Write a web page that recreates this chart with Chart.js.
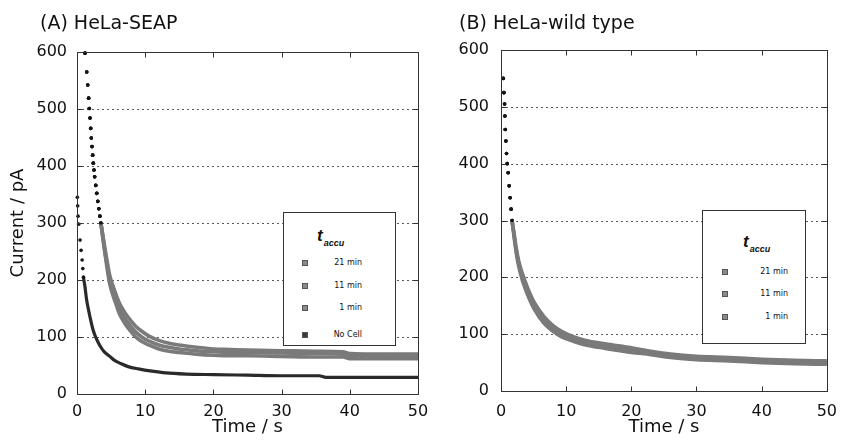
<!DOCTYPE html>
<html><head><meta charset="utf-8">
<script src="https://cdn.jsdelivr.net/npm/chart.js@4.4.1/dist/chart.umd.min.js"></script>
<style>
html,body{margin:0;padding:0;background:#fff;}
#root{position:relative;width:848px;height:443px;overflow:hidden;font-family:'DejaVu Sans',sans-serif;color:#111;}
canvas{position:absolute;top:0;}
.ttl{position:absolute;font-size:19px;line-height:19px;white-space:nowrap;color:#111;}
.lg{position:absolute;border:1px solid #333;background:#fff;box-sizing:border-box;}
.lgt{position:absolute;font-family:'Liberation Sans',sans-serif;font-weight:bold;font-style:italic;font-size:17px;line-height:17px;white-space:nowrap;color:#111;}
.lgt sub{font-size:9px;vertical-align:baseline;position:relative;top:5px;margin-left:1px;}
.mk{position:absolute;width:6px;height:6px;box-sizing:border-box;}
.lbl{position:absolute;font-size:8px;line-height:10px;height:10px;text-align:right;white-space:nowrap;color:#111;}
</style></head>
<body><div id="root">
<canvas id="cB" width="424" height="443" style="left:424px"></canvas>
<canvas id="cA" width="440" height="443" style="left:0"></canvas>
<div class="ttl" style="left:40px;top:13px">(A) HeLa-SEAP</div>
<div class="ttl" style="left:459px;top:13px">(B) HeLa-wild type</div>
</div>
<script>
// ---------- data ----------
const seriesNamesA = ['21 min', '11 min', '1 min', 'No Cell'];
const seriesNamesB = ['21 min', '11 min', '1 min'];
const xTickValues = [0, 10, 20, 30, 40, 50];
const yTickValues = [0, 100, 200, 300, 400, 500, 600];

// Panel A, cell-covered electrodes (time in s, current in pA)
const timeA = [1.17,1.42,1.57,1.71,1.8,1.91,2.01,2.1,2.2,2.3,2.39,2.49,2.59,2.75,2.9,3.05,3.2,3.35,3.5,3.8,4.1,4.4,4.8,5.3,5.8,6.2,7,7.8,8.6,9.5,10.5,12,13.5,15,17.5,20,22.5,25,30,35,39,40,45,50];
const a21min = [598,565,542,519,501,484,466,449,434,419,405,393,381,366,352,338,325,312,300,278,255,234,208,189,172,160,143,130,119,110,102,94,89,86,82,79,78,77,76,75,74,71,70,70];
const a11min = [598,565,542,519,501,484,466,449,434,419,405,393,381,366,352,338,325,312,300,275,250,228,200,180,163,150,133,120,109,100,93,86,82,79,76,74,73,73,72,71,70,67,67,66];
const a1min  = [598,565,542,519,501,484,466,449,434,419,405,393,381,366,352,338,325,312,300,272,246,222,193,172,155,141,124,111,100,92,86,79,75,73,70,68,67,67,66,65,65,62,62,62];

// Panel A, no cell
const timeNoCell = [0.05,0.1,0.15,0.25,0.45,0.6,0.75,0.85,0.95,1.15,1.4,1.7,2.0,2.3,2.6,3.0,3.5,4.0,4.8,5.5,6.5,7.5,9,11,13,16,20,25,30,35.5,36.5,40,45,50];
const aNoCell = [345,330,312,298,270,252,235,220,205,190,166,147,130,115,104,93,82,74,66,59,53,48,44,40,37,35,34,33,32,32,29,29,29,29];

// Panel B
const timeB = [0.35,0.45,0.55,0.6,0.65,0.75,0.85,0.95,1.1,1.25,1.4,1.55,1.7,2.0,2.3,2.7,3.3,4.1,5.1,6.6,8,9.3,11,13,16,20,23,26,30,35,40,45,50];
const b21min = [550,525,505,484,460,440,418,400,384,361,340,320,300,278,254,230,206,181,156,131,115,105,96,89,83,76,70,65,61,59,56,54,53];
const b11min = [550,525,505,484,460,440,418,400,384,361,340,320,300,275,250,225,200,175,150,125,110,100,92,85,79,72,67,62,58,56,53,51,50];
const b1min  = [550,525,505,484,460,440,418,400,384,361,340,320,300,272,246,220,194,169,144,119,105,95,88,81,75,68,64,59,55,53,50,48,47];

// ---------- helpers ----------
const GRAY = '#7a7a7a';
const DARK = '#2a2a2a';

function makeDataset(label, xs, ys, color, width, dotAbove) {
  return {
    label,
    data: xs.map((x, i) => ({x, y: ys[i]})),
    borderColor: color,
    borderWidth: width,
    cubicInterpolationMode: 'monotone',
    pointStyle: 'circle',
    pointRadius: c => (c.raw && c.raw.y >= dotAbove) ? 1.8 : 0,
    pointBackgroundColor: '#151515',
    pointBorderWidth: 0,
    fill: false,
    clip: 2,
    segment: {
      borderColor: c => (c.p0.parsed.y > dotAbove ? 'rgba(0,0,0,0)' : undefined)
    }
  };
}

const framePlugin = {
  id: 'frame',
  beforeDatasetsDraw(chart) {
    const {ctx, chartArea: a, scales: {y}} = chart;
    ctx.save();
    ctx.strokeStyle = '#5a5a5a';
    ctx.lineWidth = 1;
    ctx.setLineDash([2, 3]);
    y.ticks.forEach(t => {
      if (t.value <= y.min || t.value >= y.max) return;
      const py = Math.round(y.getPixelForValue(t.value)) + 0.5;
      ctx.beginPath(); ctx.moveTo(a.left, py); ctx.lineTo(a.right, py); ctx.stroke();
    });
    ctx.restore();
  },
  afterDraw(chart) {
    const {ctx, chartArea: a, scales: {x, y}} = chart;
    ctx.save();
    ctx.strokeStyle = '#333';
    ctx.lineWidth = 1;
    const L = Math.round(a.left) + 0.5, R = Math.round(a.right) + 0.5;
    const T = Math.round(a.top) + 0.5, B = Math.round(a.bottom) + 0.5;
    ctx.strokeRect(L, T, R - L, B - T);
    ctx.beginPath();
    x.ticks.forEach(t => {
      if (t.value <= x.min || t.value >= x.max) return;
      const px = Math.round(x.getPixelForValue(t.value)) + 0.5;
      ctx.moveTo(px, B); ctx.lineTo(px, B - 5);
      ctx.moveTo(px, T); ctx.lineTo(px, T + 5);
    });
    y.ticks.forEach(t => {
      if (t.value <= y.min || t.value >= y.max) return;
      const py = Math.round(y.getPixelForValue(t.value)) + 0.5;
      ctx.moveTo(L, py); ctx.lineTo(L + 5, py);
      ctx.moveTo(R, py); ctx.lineTo(R - 5, py);
    });
    ctx.stroke();
    ctx.restore();
  }
};

function makeOptions(cfg) {
  return {
    responsive: false,
    animation: false,
    events: [],
    layout: {padding: {top: cfg.top, right: cfg.right, bottom: 0, left: 0}},
    plugins: {legend: {display: false}, tooltip: {enabled: false}, title: {display: false}},
    scales: {
      x: {
        type: 'linear', min: 0, max: 50,
        afterBuildTicks: s => { s.ticks = xTickValues.map(v => ({value: v})); },
        afterFit: s => { s.height = cfg.xHeight; },
        grid: {display: false, drawTicks: false},
        border: {display: false},
        ticks: {font: {family: 'DejaVu Sans', size: 16}, color: '#111', padding: cfg.xPad, maxRotation: 0},
        title: {display: true, text: 'Time / s', color: '#111', font: {family: 'DejaVu Sans', size: 18}, padding: {top: 0, bottom: 5}}
      },
      y: {
        type: 'linear', min: 0, max: 600,
        afterBuildTicks: s => { s.ticks = yTickValues.map(v => ({value: v})); },
        afterFit: s => { s.width = 77; },
        grid: {display: false, drawTicks: false},
        border: {display: false},
        ticks: {font: {family: 'DejaVu Sans', size: 16}, color: '#111', padding: cfg.yPad},
        title: {display: cfg.yTitle, text: 'Current / pA', color: '#111', font: {family: 'DejaVu Sans', size: 18}, padding: {top: 8, bottom: 0}}
      }
    }
  };
}

new Chart(document.getElementById('cA'), {
  type: 'line',
  data: {datasets: [
    makeDataset(seriesNamesA[0], timeA, a21min, GRAY, 3.6, 300),
    makeDataset(seriesNamesA[1], timeA, a11min, GRAY, 3.6, 300),
    makeDataset(seriesNamesA[2], timeA, a1min, GRAY, 3.6, 300),
    makeDataset(seriesNamesA[3], timeNoCell, aNoCell, DARK, 3.2, 205)
  ]},
  options: makeOptions({top: 52, right: 22, xHeight: 49, xPad: 8, yPad: 10, yTitle: true}),
  plugins: [framePlugin]
});

new Chart(document.getElementById('cB'), {
  type: 'line',
  data: {datasets: [
    makeDataset(seriesNamesB[0], timeB, b21min, GRAY, 3.6, 300),
    makeDataset(seriesNamesB[1], timeB, b11min, GRAY, 3.6, 300),
    makeDataset(seriesNamesB[2], timeB, b1min, GRAY, 3.6, 300)
  ]},
  options: makeOptions({top: 50, right: 11, xHeight: 52, xPad: 11, yPad: 12, yTitle: false}),
  plugins: [framePlugin]
});

// ---------- legends (HTML, built from the series names) ----------
function buildLegend(box, titlePos, names, colors, rowsY, markerX, textRight) {
  const root = document.getElementById('root');
  const lg = document.createElement('div');
  lg.className = 'lg';
  Object.assign(lg.style, {left: box[0] + 'px', top: box[1] + 'px', width: box[2] + 'px', height: box[3] + 'px'});
  root.appendChild(lg);
  const t = document.createElement('div');
  t.className = 'lgt';
  t.style.left = titlePos[0] + 'px';
  t.style.top = titlePos[1] + 'px';
  t.innerHTML = 't<sub>accu</sub>';
  root.appendChild(t);
  names.forEach((n, i) => {
    const m = document.createElement('div');
    m.className = 'mk';
    Object.assign(m.style, {left: markerX + 'px', top: (rowsY[i] - 3) + 'px', background: colors[i], border: '1px solid #555'});
    root.appendChild(m);
    const l = document.createElement('div');
    l.className = 'lbl';
    Object.assign(l.style, {left: (textRight - 60) + 'px', width: '60px', top: (rowsY[i] - 5) + 'px'});
    l.textContent = n;
    root.appendChild(l);
  });
}
buildLegend([283, 212, 113, 134], [317, 227], seriesNamesA, ['#8a8a8a', '#8a8a8a', '#8a8a8a', '#3a3a3a'], [263, 286, 308, 335], 302, 362);
buildLegend([702, 210, 104, 134], [743, 233], seriesNamesB, ['#8a8a8a', '#8a8a8a', '#8a8a8a'], [272, 294, 317], 722, 788);
</script>
</body></html>
